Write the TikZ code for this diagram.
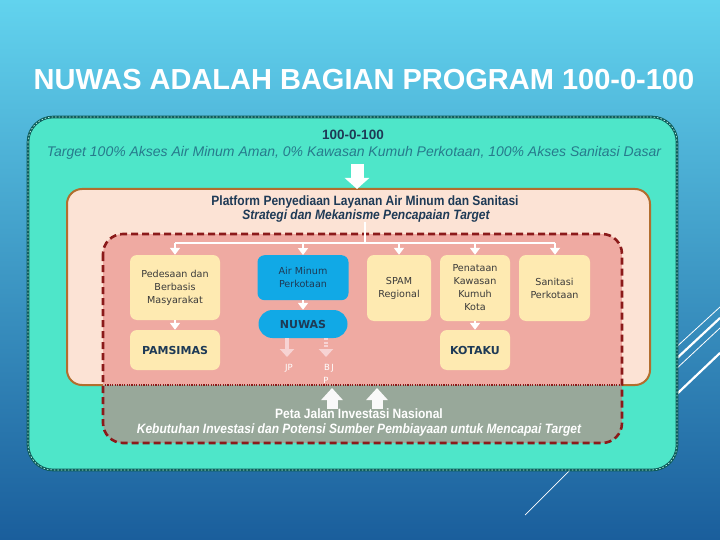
\documentclass[tikz,border=0pt]{standalone}
\usepackage{fontspec}
\setmainfont{Liberation Sans}
\newfontfamily\narrowfont[FakeStretch=0.89]{Liberation Sans}
\newfontfamily\boxfont{DejaVu Sans}
\usetikzlibrary{arrows.meta}
\definecolor{bgtop}{HTML}{62D3EE}
\definecolor{bgbot}{HTML}{1A5E9C}
\definecolor{tealfill}{HTML}{4EE6C9}
\definecolor{tealline}{HTML}{0E5C5A}
\definecolor{peach}{HTML}{FCE3D5}
\definecolor{brownline}{HTML}{B26E2E}
\definecolor{salmon}{HTML}{EFAAA2}
\definecolor{grayfill}{HTML}{98A89A}
\definecolor{darkred}{HTML}{8B1A1A}
\definecolor{yelbox}{HTML}{FEEAB1}
\definecolor{bluebox}{HTML}{11A9E6}
\definecolor{navy}{HTML}{1E3A56}
\definecolor{targettxt}{HTML}{277A8C}
\definecolor{boxtxt}{HTML}{3A3A3A}
\definecolor{pinkarrow}{HTML}{F7D3D3}
\tikzset{
  ybox/.style={fill=yelbox, rounded corners=7pt, align=center, inner sep=0pt, text=boxtxt,
    font=\boxfont\fontsize{9.6}{13}\selectfont},
  bbox/.style={fill=bluebox, rounded corners=7pt, align=center, inner sep=0pt, text=navy,
    font=\boxfont\fontsize{9.6}{13}\selectfont},
  boldlbl/.style={font=\boxfont\bfseries\fontsize{11}{12}\selectfont, text=navy},
  wconn/.style={draw=white, line width=2.5pt},
  warr/.style={draw=white, line width=2.5pt, -{Triangle[width=10pt,length=7pt]}},
  parr/.style={draw=pinkarrow, line width=4pt, -{Triangle[width=14pt,length=8pt]}},
  bigarr/.style={draw=white, line width=13pt, -{Triangle[width=24pt,length=11pt]}},
  uparr/.style={draw=white!95!gray, line width=11pt, -{Triangle[width=21pt,length=12pt]}},
  lbltxt/.style={text=white, font=\boxfont\fontsize{8.5}{10}\selectfont},
}
\begin{document}
\begin{tikzpicture}[x=1pt,y=-1pt]
\useasboundingbox (0,0) rectangle (720,540);
% background
\shade[top color=bgtop, bottom color=bgbot] (0,0) rectangle (720,540);
% decorative lines
\draw[white, line width=0.8pt] (660,362) -- (720,307);
\draw[white, line width=2.2pt] (660,374) -- (720,318);
\draw[white, line width=0.8pt] (660,384) -- (720,328);
\draw[white, line width=2.2pt] (660,410) -- (720,353);
\draw[white, line width=0.7pt] (525,515) -- (570,470);
% title
\node[text=white, font=\bfseries\fontsize{29}{32}\selectfont] (title) at (364,80) {NUWAS ADALAH BAGIAN PROGRAM 100-0-100};
% outer teal box
\draw[fill=tealfill, draw=tealline, line width=2.6pt, rounded corners=25pt] (28,117) rectangle (677,470);
\draw[draw=tealfill!40!white, line width=0.7pt, dash pattern=on 1.5pt off 2pt, rounded corners=25pt] (28,117) rectangle (677,470);
\node[font=\bfseries\fontsize{13.5}{15}\selectfont, text=navy] (t100) at (353,135) {100-0-100};
\node[font=\itshape\fontsize{14}{16}\selectfont, text=targettxt] (target) at (354,153) {Target 100\% Akses Air Minum Aman, 0\% Kawasan Kumuh Perkotaan, 100\% Akses Sanitasi Dasar};
% peach box
\draw[fill=peach, draw=brownline, line width=2pt, rounded corners=15pt] (67,189) rectangle (650,385);
\coordinate (platTop) at (357,189);
\draw[bigarr] (357,164) -- (platTop);
\node[font=\narrowfont\bfseries\fontsize{13.5}{15}\selectfont, text=navy] (plat) at (365,202) {Platform Penyediaan Layanan Air Minum dan Sanitasi};
\node[font=\narrowfont\bfseries\itshape\fontsize{13.5}{15}\selectfont, text=navy] (strat) at (366,216) {Strategi dan Mekanisme Pencapaian Target};
% red dashed box
\begin{scope}
\clip[rounded corners=20pt] (103,234) rectangle (622,443);
\fill[salmon] (103,234) rectangle (622,385);
\fill[grayfill] (103,385) rectangle (622,443);
\end{scope}
\draw[darkred, line width=1.2pt, dash pattern=on 1.2pt off 1.2pt] (105,385) -- (620,385);
\draw[darkred, line width=2.6pt, dash pattern=on 7pt off 4pt, rounded corners=20pt] (103,234) rectangle (622,443);
% program boxes
\node[ybox, minimum width=90pt, minimum height=65pt] (pedesaan) at (175,287.5) {Pedesaan dan\\Berbasis\\Masyarakat};
\node[ybox, minimum width=90pt, minimum height=40pt, boldlbl] (pamsimas) at (175,350) {PAMSIMAS};
\node[bbox, minimum width=91pt, minimum height=45pt, anchor=north] (airminum) at (303,255) {Air Minum\\Perkotaan};
\node[fill=bluebox, rounded corners=14pt, minimum width=89pt, minimum height=28pt, inner sep=0pt, boldlbl] (nuwas) at (303,324) {NUWAS};
\node[ybox, minimum width=64pt, minimum height=66pt] (spam) at (399,288) {SPAM\\Regional};
\node[ybox, minimum width=70pt, minimum height=66pt] (penataan) at (475,288) {Penataan\\Kawasan\\Kumuh\\Kota};
\node[ybox, minimum width=71pt, minimum height=66pt] (sanitasi) at (554.5,288) {Sanitasi\\Perkotaan};
\node[ybox, minimum width=70pt, minimum height=40pt, boldlbl] (kotaku) at (475,350) {KOTAKU};
% distribution connectors
\coordinate (split) at (365,243);
\coordinate (leftEnd) at (175,243);
\coordinate (rightEnd) at (555,243);
\draw[wconn] (365,222) -- (split);
\draw[wconn] (leftEnd) -- (rightEnd);
\draw[warr] (leftEnd) -- (pedesaan.north);
\draw[warr] (303,243) -- (airminum.north);
\draw[warr] (399,243) -- (spam.north);
\draw[warr] (475,243) -- (penataan.north);
\draw[warr] (rightEnd) -- (sanitasi.north -| rightEnd);
\draw[warr] (pedesaan.south) -- (pamsimas.north);
\draw[warr] (airminum.south) -- (nuwas.north);
\draw[warr] (penataan.south) -- (kotaku.north);
% JP / BJP
\coordinate (jpEnd) at (287,357);
\coordinate (bjpEnd) at (326,357);
\draw[parr] (nuwas.south -| jpEnd) -- (jpEnd);
\draw[draw=pinkarrow, line width=4pt, dash pattern=on 2pt off 1.5pt] (nuwas.south -| bjpEnd) -- (326,350);
\draw[parr] (326,349) -- (bjpEnd);
\node[lbltxt] (jp) at (289,368) {JP};
\node[lbltxt] (bj) at (329,368) {B\,J};
\node[lbltxt] (p) at (326,380) {P};
% bottom section
\coordinate (up1) at (332,388);
\coordinate (up2) at (377,388);
\draw[uparr] (332,409) -- (up1);
\draw[uparr] (377,409) -- (up2);
\node[font=\narrowfont\bfseries\fontsize{13.5}{15}\selectfont, text=white] (peta) at (359,414) {Peta Jalan Investasi Nasional};
\node[font=\narrowfont\bfseries\itshape\fontsize{13.5}{15}\selectfont, text=white] (kebutuhan) at (359,430) {Kebutuhan Investasi dan Potensi Sumber Pembiayaan untuk Mencapai Target};
\end{tikzpicture}
\end{document}
